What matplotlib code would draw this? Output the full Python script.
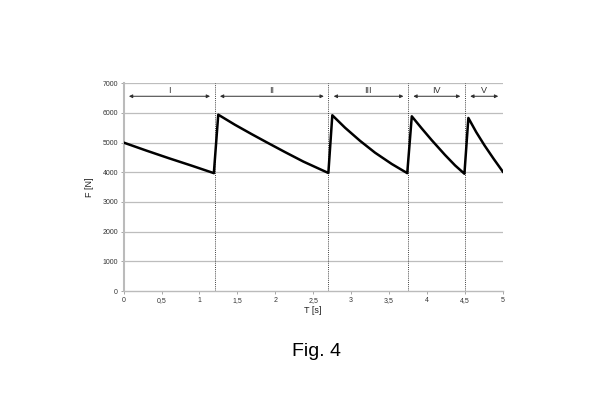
import matplotlib.pyplot as plt

plt.rcParams['font.family'] = ['Liberation Sans', 'DejaVu Sans']

# force curve
t = [0, 0.3, 0.6, 0.9, 1.19,
     1.248, 1.468, 1.688, 1.886, 2.128, 2.37, 2.70,
     2.752, 2.92, 3.117, 3.315, 3.535, 3.74,
     3.80, 3.93, 4.063, 4.239, 4.371, 4.494,
     4.546, 4.65, 4.76, 4.88, 5.0]
F = [5000, 4730, 4470, 4220, 3970,
     5940, 5600, 5285, 5010, 4680, 4360, 3975,
     5920, 5500, 5060, 4660, 4280, 3970,
     5885, 5480, 5080, 4580, 4230, 3950,
     5830, 5350, 4900, 4450, 4020]

# phase boundaries and labels
bounds = [0, 1.2, 2.7, 3.75, 4.5, 5]
phases = ['I', 'II', 'III', 'IV', 'V']

fig = plt.figure(figsize=(6, 4), dpi=100)
ax = fig.add_axes([0.206, 0.2725, 0.632, 0.5195])

for y in range(1000, 7001, 1000):
    ax.axhline(y, color='#bdbdbd', lw=0.9, zorder=1)
for b in bounds[1:]:
    ax.axvline(b, color='#404040', lw=0.7, ls=(0, (1, 1.2)), zorder=1)

ax.plot(t, F, color='black', lw=1.8, zorder=3, solid_joinstyle='round')

for i, name in enumerate(phases):
    a, b = bounds[i] + 0.07, bounds[i + 1] - 0.06
    ax.annotate('', xy=(a, 6560), xytext=(b, 6560),
                arrowprops=dict(arrowstyle='<|-|>', color='#303030', lw=0.7,
                                mutation_scale=5, shrinkA=0, shrinkB=0))
    ax.text((bounds[i] + bounds[i + 1]) / 2, 6600, name, ha='center', va='bottom',
            fontsize=6.5, color='#333333')

ax.set_xlim(0, 5)
ax.set_ylim(0, 7000)
ax.set_xticks([0, 0.5, 1, 1.5, 2, 2.5, 3, 3.5, 4, 4.5, 5])
ax.set_xticklabels(['0', '0,5', '1', '1,5', '2', '2,5', '3', '3,5', '4', '4,5', '5'])
ax.set_yticks(range(0, 7001, 1000))
ax.tick_params(labelsize=5, length=2, width=0.6, color='#999999', labelcolor='#333333', pad=2)

for s in ['top', 'right']:
    ax.spines[s].set_visible(False)
ax.spines['left'].set_color('#bbbbbb')
ax.spines['left'].set_linewidth(1.5)
ax.spines['bottom'].set_color('#bbbbbb')
ax.spines['bottom'].set_linewidth(1.0)

ax.set_xlabel('T [s]', fontsize=6.5, labelpad=2, color='#222222')
ax.set_ylabel('F [N]', fontsize=6.5, labelpad=6, color='#222222')

fig.text(0.528, 0.12, 'Fig. 4', ha='center', va='center', fontsize=14)

fig.savefig('out.png', dpi=100)
